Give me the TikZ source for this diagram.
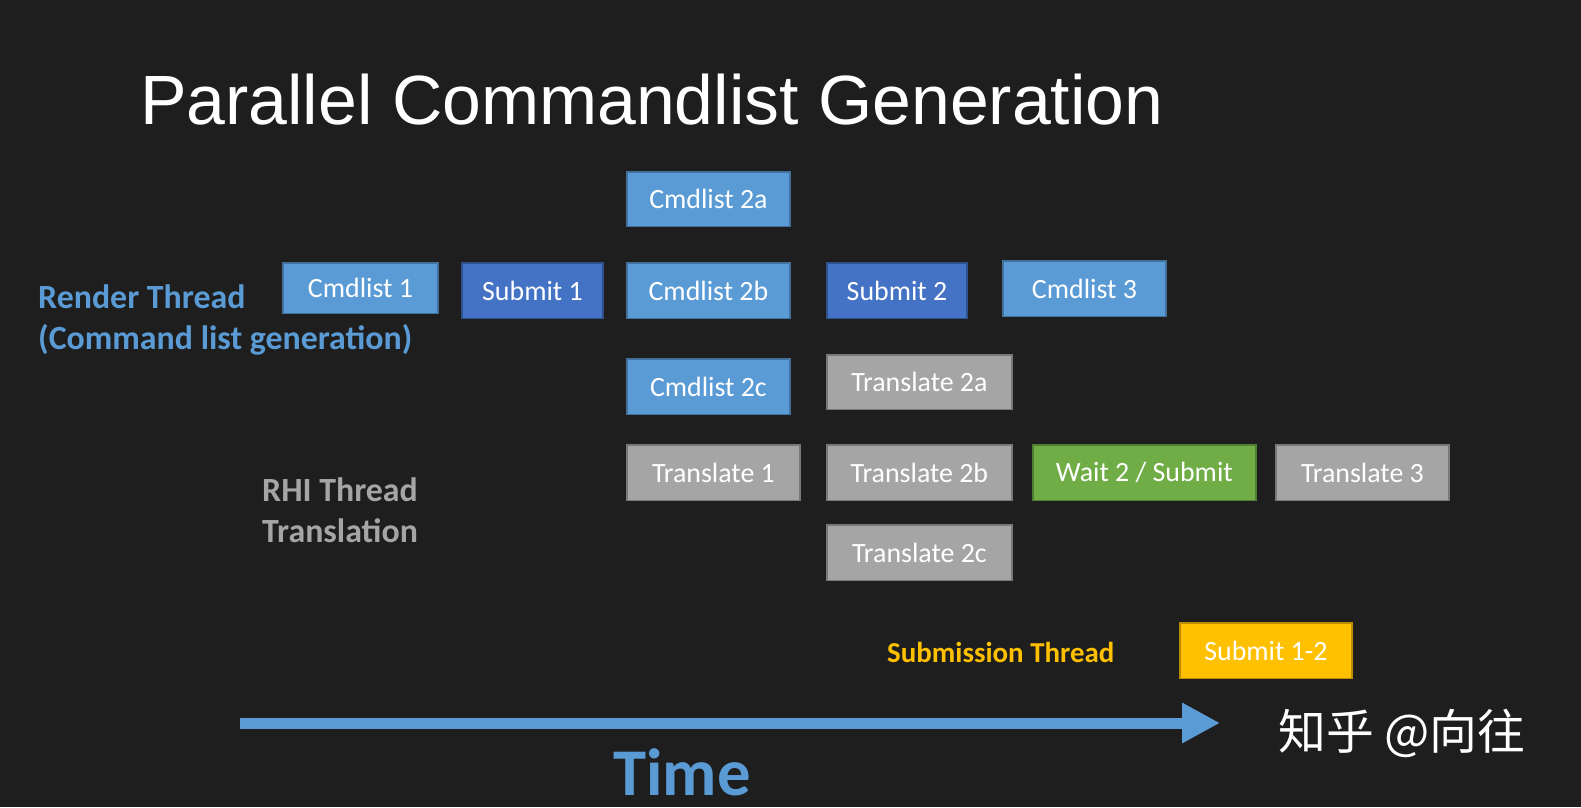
\documentclass[tikz,border=0pt]{standalone}
\usepackage{fontspec}
\setmainfont{Carlito}
\newfontfamily\titlefont{Liberation Sans}
\newfontfamily\cjk{Noto Sans CJK SC}
\usetikzlibrary{arrows.meta}
\definecolor{bg}{HTML}{1E1E1E}
\definecolor{lb}{HTML}{5B9BD5}
\definecolor{lbb}{HTML}{41719C}
\definecolor{db}{HTML}{4472C4}
\definecolor{dbb}{HTML}{2F528F}
\definecolor{gr}{HTML}{A5A5A5}
\definecolor{grb}{HTML}{787878}
\definecolor{gn}{HTML}{70AD47}
\definecolor{gnb}{HTML}{507E32}
\definecolor{yl}{HTML}{FFC000}
\definecolor{ylb}{HTML}{BC8C00}
\begin{document}
\begin{tikzpicture}[x=1bp,y=-1bp,
  box/.style={draw=#1b,line width=1.5bp,fill=#1,text=white,font=\fontsize{28}{30}\selectfont,inner sep=0pt},
  ]
\fill[bg] (0,0) rectangle (1581,807);
\useasboundingbox (0,0) rectangle (1581,807);
\newcommand{\bx}[7]{\node[box=#6,minimum width=#3-#1,minimum height=#4-#2,anchor=north west] (#7) at (#1,#2) {#5};}
\node[anchor=west,text=white,font=\titlefont\fontsize{70}{74}\selectfont,inner sep=0pt] (title) at (140,100) {Parallel Commandlist Generation};
\bx{626}{171}{790}{226}{Cmdlist 2a}{lb}{c2a}
\bx{282}{262}{438}{313}{Cmdlist 1}{lb}{c1}
\bx{461}{262}{603}{318}{Submit 1}{db}{s1}
\bx{626}{262}{790}{318}{Cmdlist 2b}{lb}{c2b}
\bx{826}{262}{967}{318}{Submit 2}{db}{s2}
\bx{1002}{260}{1166}{316}{Cmdlist 3}{lb}{c3}
\bx{626}{358}{790}{414}{Cmdlist 2c}{lb}{c2c}
\bx{826}{354}{1012}{409}{Translate 2a}{gr}{t2a}
\bx{626}{444}{800}{500}{Translate 1}{gr}{t1}
\bx{826}{444}{1012}{500}{Translate 2b}{gr}{t2b}
\bx{1032}{444}{1256}{500}{Wait 2 / Submit}{gn}{w2}
\bx{1275}{444}{1449}{500}{Translate 3}{gr}{t3}
\bx{826}{524}{1012}{580}{Translate 2c}{gr}{t2c}
\bx{1179}{622}{1352}{678}{Submit 1-2}{yl}{s12}
\node[anchor=north west,text=lb,font=\bfseries\fontsize{34}{41}\selectfont,align=left,inner sep=0pt] (rt) at (38,285) {Render Thread\\(Command list generation)};
\node[anchor=north west,text=gr,font=\bfseries\fontsize{34}{41}\selectfont,align=left,inner sep=0pt] (rhi) at (262,478) {RHI Thread\\Translation};
\node[anchor=west,text=yl,font=\bfseries\fontsize{29}{32}\selectfont,inner sep=0pt] (sub) at (887,652) {Submission Thread};
\coordinate (a0) at (240,723);
\coordinate (a1) at (1220,723);
\draw[lb,line width=11bp,-{Triangle[length=38bp,width=38bp]}] (a0) -- (a1);
\node[text=lb,font=\bfseries\fontsize{67}{70}\selectfont] (time) at (682,772) {Time};
\node[anchor=west,text=white,font=\cjk\fontsize{48}{50}\selectfont,inner sep=0pt] (wm) at (1278,733) {知乎 @向往};
\end{tikzpicture}
\end{document}
